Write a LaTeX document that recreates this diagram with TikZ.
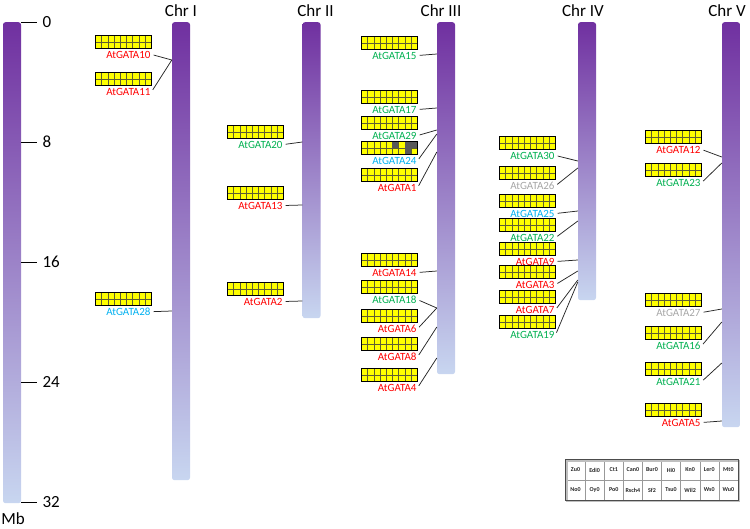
\documentclass[tikz,border=0pt]{standalone}
\usepackage{fontspec}
\setmainfont{Carlito}
\usetikzlibrary{calc,positioning}
\definecolor{chrtop}{RGB}{112,48,160}
\definecolor{chrbot}{RGB}{200,214,240}
\definecolor{gred}{RGB}{255,0,0}
\definecolor{ggreen}{RGB}{0,176,80}
\definecolor{gblue}{RGB}{0,176,240}
\definecolor{ggray}{RGB}{166,166,166}
\definecolor{gyellow}{RGB}{255,255,0}
\definecolor{gline}{RGB}{95,95,50}

\begin{document}
\begin{tikzpicture}[x=1pt,y=-1pt,
  chrom/.style={rounded corners=2.5pt,top color=chrtop,bottom color=chrbot,
                minimum width=18pt,inner sep=0pt,anchor=north},
  chrlab/.style={font=\fontsize{17}{17}\selectfont,inner sep=1pt},
  numlab/.style={font=\fontsize{17}{17}\selectfont,inner sep=1pt},
  genebox/.style={draw=black,line width=0.7pt,fill=gyellow,minimum width=56pt,
                  minimum height=13pt,inner sep=0pt,anchor=north west,
    path picture={
      \foreach \k in {1,...,8}
        \draw[gline,line width=0.4pt]
          ($(path picture bounding box.north west)!\k/9!(path picture bounding box.north east)$) --
          ($(path picture bounding box.south west)!\k/9!(path picture bounding box.south east)$);
      \draw[gline,line width=0.4pt]
        (path picture bounding box.west) -- (path picture bounding box.east);
    }},
  genelab/.style={font=\fontsize{11}{11}\selectfont,anchor=north east,
                  inner xsep=1pt,inner ysep=2pt},
  link/.style={draw=black!85,line width=0.75pt,shorten <=2pt},
  tick/.style={draw=black,line width=0.8pt},
  acc/.style={draw=black!40,line width=0.4pt,minimum width=19.1pt,minimum height=20pt,
              inner sep=0pt,font=\fontsize{6}{6}\selectfont\bfseries,text=black!85}
]
  \useasboundingbox (0,0) rectangle (750,528);

  % scale bar
  \node[chrom,minimum height=481pt] (scale) at (12,22) {};
  \foreach \v in {0,8,...,32}
    \draw[tick] (scale.east |- 0,{22+15*\v}) -- ++(16,0) node[numlab,right=4pt] (n\v) {\v};
  \node[numlab,inner sep=0pt,anchor=north] (mb) at (13,512) {Mb};

  % chromosomes
  \node[chrom,minimum height=458pt] (chr1) at (181,22) {};
  \node[chrom,minimum height=296pt] (chr2) at (311.5,22) {};
  \node[chrom,minimum height=352pt] (chr3) at (446,22) {};
  \node[chrom,minimum height=278pt] (chr4) at (587,22) {};
  \node[chrom,minimum height=405pt] (chr5) at (731,22) {};
  \node[chrlab,above=4.5pt of chr1] (t1) {Chr I};
  \node[chrlab,above=4.5pt of chr2,xshift=4pt] (t2) {Chr II};
  \node[chrlab,above=4.5pt of chr3,xshift=-5pt] (t3) {Chr III};
  \node[chrlab,above=4.5pt of chr4,xshift=-4pt] (t4) {Chr IV};
  \node[chrlab,above=4.5pt of chr5,xshift=-4pt] (t5) {Chr V};

  % genes: id / box top / colour / position on chromosome
  \foreach \id/\yy/\col/\att in {10/35/gred/60, 11/72/gred/60, 28/292/gblue/311} {
    \node[genebox] (b\id) at (95,\yy) {};
    \node[genelab,text=\col] (l\id) at (b\id.south east) {AtGATA\id};
    \draw[link] (l\id.east) -- (chr1.west |- 0,\att);
  }
  \foreach \id/\yy/\col/\att in {20/125/ggreen/142, 13/186/gred/205, 2/282/gred/301} {
    \node[genebox] (b\id) at (227,\yy) {};
    \node[genelab,text=\col] (l\id) at (b\id.south east) {AtGATA\id};
    \draw[link] (l\id.east) -- (chr2.west |- 0,\att);
  }
  \foreach \id/\yy/\col/\att in {15/36/ggreen/54, 17/90/ggreen/108, 29/116/ggreen/130,
      24/141/gblue/134, 1/168/gred/152, 14/253/gred/271, 18/280/ggreen/308,
      6/309/gred/308, 8/337/gred/327, 4/368/gred/358} {
    \node[genebox] (b\id) at (361,\yy) {};
    \node[genelab,text=\col] (l\id) at (b\id.south east) {AtGATA\id};
    \draw[link] (l\id.east) -- (chr3.west |- 0,\att);
  }
  \foreach \c/\r in {5/0,7/0,8/0,7/1}
    \fill[black!65] ($(b24.north west)+({\c*56/9},{\r*6.5})$) rectangle ++({56/9},6.5);
  \draw[line width=0.7pt] (b24.north west) rectangle (b24.south east);
  \foreach \id/\yy/\col/\att in {30/136/ggreen/161, 26/166/ggray/168, 25/194/gblue/211,
      22/218/ggreen/221, 9/242/gred/260, 3/265/gred/271, 7/290/gred/280, 19/315/ggreen/282} {
    \node[genebox] (b\id) at (499,\yy) {};
    \node[genelab,text=\col] (l\id) at (b\id.south east) {AtGATA\id};
    \draw[link] (l\id.east) -- (chr4.west |- 0,\att);
  }
  \foreach \id/\yy/\col/\att in {12/130/gred/157, 23/163/ggreen/163, 27/293/ggray/309,
      16/326/ggreen/322, 21/362/ggreen/363, 5/403/gred/421} {
    \node[genebox] (b\id) at (645,\yy) {};
    \node[genelab,text=\col] (l\id) at (b\id.south east) {AtGATA\id};
    \draw[link] (l\id.east) -- (chr5.west |- 0,\att);
  }

  % accessions
  \foreach \nm [count=\i from 0] in {Zu0,Edi0,Ct1,Can0,Bur0,Hi0,Kn0,Ler0,Mt0}
    \node[acc] (a1\i) at ({566+(\i+0.5)*19.1},470) {\nm};
  \foreach \nm [count=\i from 0] in {No0,Oy0,Po0,Rsch4,Sf2,Tsu0,Wil2,Ws0,Wu0}
    \node[acc] (a2\i) at ({566+(\i+0.5)*19.1},490) {\nm};
  \draw[black!25,line width=2pt] ([shift={(1pt,-1pt)}]a10.north west) rectangle ([shift={(1pt,-1pt)}]a28.south east);
  \draw[black!70,line width=0.8pt] (a10.north west) rectangle (a28.south east);
\end{tikzpicture}
\end{document}
